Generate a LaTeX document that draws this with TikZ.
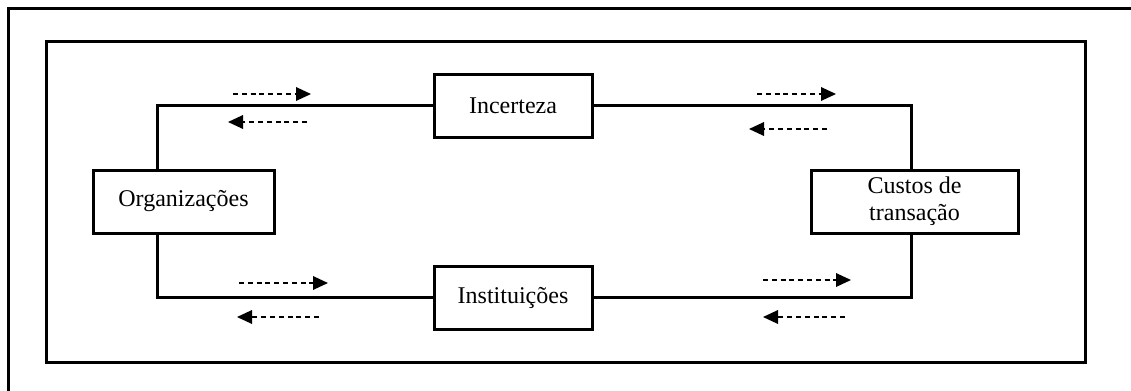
\documentclass[tikz,border=0pt]{standalone}
\usepackage{fontspec}
\setmainfont{Liberation Serif}
\usetikzlibrary{arrows.meta}

\begin{document}
\begin{tikzpicture}[x=0.5pt,y=-0.5pt,
    box/.style={draw, line width=1.5pt, minimum height=31.5pt, inner sep=0pt,
      font=\fontsize{12}{13.5}\selectfont, align=center},
    link/.style={line width=1.5pt},
    flow/.style={line width=0.75pt, dash pattern=on 2.5pt off 1.9pt,
      -{Triangle[length=7.5pt,width=6.8pt]}}]
      \useasboundingbox (0,0) rectangle (1131,391);
      % frames
      \draw[link] (8.7,400) -- (8.7,8.7) -- (1140,8.7);
      \draw[link] (46.5,41) rectangle (1085.5,362);
      % boxes
      \node[box, minimum width=90.5pt] (org) at (183.5,201.5) {Organizações};
      \node[box, minimum width=79pt] (inc) at (513,105.5) {Incerteza};
      \node[box, minimum width=79pt] (ins) at (513,297.5) {Instituições};
      \node[box, minimum width=103.5pt] (cus) at (914.5,201.5) {Custos de\\transação};
      % loop
      \draw[link] (inc.west) -| ([xshift=-13.25pt]org.north);
      \draw[link] (ins.west) -| ([xshift=-13.25pt]org.south);
      \draw[link] (inc.east) -| ([xshift=-1.75pt]cus.north);
      \draw[link] (ins.east) -| ([xshift=-1.75pt]cus.south);
      % flows
      \draw[flow] (233,94) -- (311,94);
      \draw[flow] (307,122) -- (228,122);
      \draw[flow] (757,94) -- (836,94);
      \draw[flow] (827,129) -- (749,129);
      \draw[flow] (239,283) -- (328,283);
      \draw[flow] (319,317) -- (237,317);
      \draw[flow] (763,280) -- (851,280);
      \draw[flow] (845,317) -- (763,317);
\end{tikzpicture}
\end{document}
